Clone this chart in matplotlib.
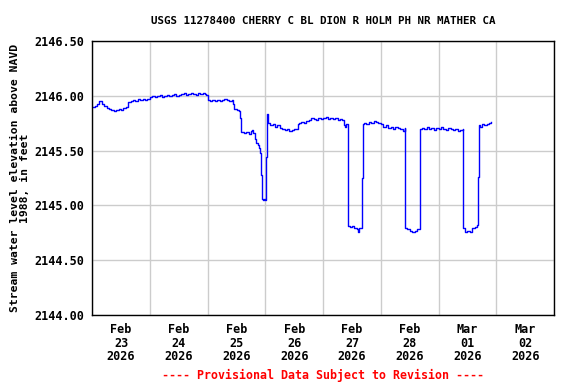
import pandas as pd
import matplotlib
matplotlib.use("Agg")
import matplotlib.pyplot as plt
import matplotlib.dates as mdates

# hours since 2026-02-23 00:00 and gage height (ft above NAVD 1988)
hours = [
    0, 1, 2, 3, 4, 5, 6, 7, 8, 9, 10, 11, 12, 13, 14, 15, 16, 17, 18, 19, 20, 21, 22, 23,
    24, 25, 26, 27, 28, 29, 30, 31, 32, 33, 34, 35, 36, 37, 38, 39, 40, 41, 42, 43, 44, 45, 46, 47,
    47.5, 48, 49, 50, 51, 52, 53, 54, 55, 56, 57, 58, 58.5, 59, 60, 61, 61.6, 62, 63, 64, 65, 66,
    66.5, 67, 67.5, 68.2, 69, 69.5, 69.9, 70.2, 70.6, 71, 71.5, 72, 72.3, 72.5, 73, 74, 75, 76,
    77, 78, 79, 80, 81, 82, 83, 84, 85, 85.5, 86, 87, 88, 89, 90, 91, 92, 93, 94, 95, 96, 97,
    98, 99, 100, 101, 102, 103, 104, 104.5, 105, 105.6, 106, 106.2, 106.5, 107, 108, 109, 110,
    110.5, 111, 112, 112.2, 112.5, 113, 114, 115, 116, 117, 118, 119, 120, 121, 122, 123, 124,
    125, 126, 127, 128, 129, 130, 130.2, 131, 132, 133, 134, 135, 136, 136.1, 136.4, 137, 138,
    139, 140, 141, 142, 143, 144, 145, 146, 147, 148, 149, 150, 151, 152, 153, 154, 154.2, 155,
    156, 157, 158, 159, 160, 160.4, 160.6, 161, 162, 163, 164, 165, 165.6,
]
stage = [
    2145.90, 2145.91, 2145.93, 2145.95, 2145.93, 2145.91, 2145.89, 2145.88, 2145.87, 2145.86,
    2145.87, 2145.88, 2145.87, 2145.89, 2145.90, 2145.94, 2145.95, 2145.96, 2145.95, 2145.97,
    2145.96, 2145.97, 2145.96, 2145.97,
    2145.99, 2146.00, 2145.99, 2146.00, 2146.01, 2145.99, 2146.00, 2146.01, 2146.00, 2146.01,
    2146.02, 2146.00, 2146.01, 2146.02, 2146.03, 2146.01, 2146.02, 2146.03, 2146.02, 2146.01,
    2146.03, 2146.02, 2146.03, 2146.02,
    2146.01, 2145.96, 2145.95, 2145.96, 2145.95, 2145.96, 2145.95, 2145.96, 2145.97, 2145.96,
    2145.95, 2145.96, 2145.93, 2145.88, 2145.87, 2145.86, 2145.80, 2145.67, 2145.66, 2145.67,
    2145.65, 2145.68,
    2145.69, 2145.66, 2145.61, 2145.57, 2145.55, 2145.52, 2145.48, 2145.28, 2145.06, 2145.05,
    2145.06, 2145.05, 2145.44, 2145.83, 2145.75, 2145.73, 2145.74, 2145.72,
    2145.73, 2145.71, 2145.70, 2145.69, 2145.70, 2145.68, 2145.69, 2145.70, 2145.70, 2145.74,
    2145.75, 2145.76, 2145.75, 2145.77, 2145.78, 2145.80, 2145.79, 2145.78, 2145.80, 2145.79,
    2145.80, 2145.81,
    2145.79, 2145.80, 2145.79, 2145.80, 2145.78, 2145.79, 2145.78, 2145.73, 2145.72, 2145.74,
    2145.74, 2145.28, 2144.81, 2144.80, 2144.81, 2144.79, 2144.78,
    2144.76, 2144.79, 2144.82, 2145.25, 2145.74, 2145.75, 2145.74, 2145.76, 2145.75, 2145.77,
    2145.76, 2145.75, 2145.74, 2145.72, 2145.73, 2145.71, 2145.72,
    2145.70, 2145.72, 2145.71, 2145.70, 2145.68, 2145.71, 2144.79, 2144.78, 2144.77, 2144.76,
    2144.77, 2144.78, 2144.78, 2145.23, 2145.70, 2145.71, 2145.70,
    2145.72, 2145.70, 2145.71, 2145.69, 2145.71, 2145.70, 2145.72, 2145.70, 2145.69, 2145.71,
    2145.70, 2145.69, 2145.70, 2145.68, 2145.69, 2145.70, 2144.79, 2144.76,
    2144.77, 2144.76, 2144.79, 2144.80, 2144.82, 2145.26, 2145.73, 2145.72, 2145.74, 2145.73,
    2145.74, 2145.75, 2145.76,
]
y_ticks = [2144.0, 2144.5, 2145.0, 2145.5, 2146.0, 2146.5]

start = pd.Timestamp("2026-02-23")
t = start + pd.to_timedelta(hours, unit="h")

mono = "DejaVu Sans Mono"
fig = plt.figure(figsize=(5.76, 3.84), dpi=100)
ax = fig.add_axes([0.16, 0.18, 0.802, 0.713])

ax.plot(t, stage, color="#0000ff", lw=1.0, drawstyle="steps-post")

ax.set_xlim(start, start + pd.Timedelta(days=8))
ax.set_ylim(2144.0, 2146.5)
ax.set_yticks(y_ticks)
ax.set_yticklabels([f"{v:.2f}" for v in y_ticks], family=mono, weight="bold", fontsize=8.5)

# gridlines at midnight, date labels centred at noon
ax.xaxis.set_major_locator(mdates.DayLocator())
ax.xaxis.set_major_formatter(plt.NullFormatter())
ax.xaxis.set_minor_locator(mdates.HourLocator(byhour=[12]))
ax.xaxis.set_minor_formatter(mdates.DateFormatter("%b\n%d\n%Y"))
for lab in ax.xaxis.get_minorticklabels():
    lab.set_family(mono)
    lab.set_weight("bold")
    lab.set_fontsize(8.5)
    lab.set_linespacing(1.05)

ax.tick_params(axis="both", which="both", length=0, pad=6)
ax.grid(True, which="major", color="#cccccc", lw=1)
ax.set_axisbelow(True)
for s in ax.spines.values():
    s.set_color("black")
    s.set_linewidth(1)

ax.set_title("USGS 11278400 CHERRY C BL DION R HOLM PH NR MATHER CA",
             family=mono, weight="bold", fontsize=7.8, pad=12)
ax.set_ylabel("Stream water level elevation above NAVD\n1988, in feet",
              family=mono, weight="bold", fontsize=8.2, labelpad=3, linespacing=1.0)

fig.text(0.56, 0.014, "---- Provisional Data Subject to Revision ----",
         color="red", family=mono, weight="bold", fontsize=8.4, ha="center")

fig.savefig("out.png", dpi=100)
